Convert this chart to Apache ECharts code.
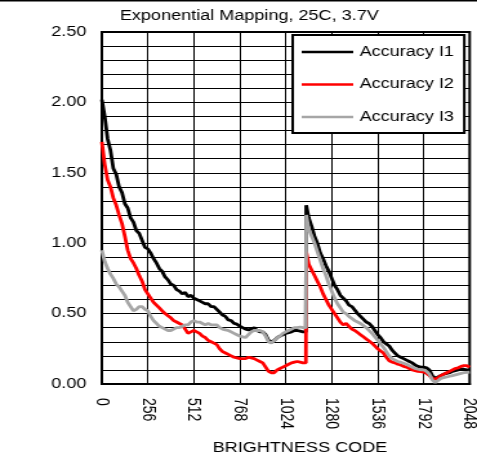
<!DOCTYPE html>
<html>
<head>
<meta charset="utf-8">
<script src="https://cdn.jsdelivr.net/npm/echarts@6/dist/echarts.min.js"></script>
<style>
html,body{margin:0;padding:0;background:#fff;overflow:hidden;}
#wrap{width:477px;height:464px;overflow:hidden;position:relative;}
#chart{width:370px;height:464px;transform:scaleX(1.2892);transform-origin:0 0;}
</style>
</head>
<body>
<div id="wrap"><div id="chart"></div></div>
<script>
// Brightness codes (x values)
var codes = [0,16,32,48,64,80,96,112,128,144,160,176,192,208,224,240,256,272,288,304,320,336,352,368,384,400,416,432,448,464,480,496,512,528,544,560,576,592,608,624,640,656,672,688,704,720,736,752,768,784,800,816,832,848,864,880,896,912,928,944,960,976,992,1008,1024,1040,1056,1072,1088,1104,1120,
  1136,1138,
  1152,1168,1184,1200,1216,1232,1248,1264,1280,1296,1312,1328,1344,1360,1376,1392,1408,1424,1440,1456,1472,1488,1504,1520,1536,1552,1568,1584,1600,1616,1632,1648,1664,1680,1696,1712,1728,1744,1760,1776,1792,1808,1824,1840,1856,1872,1888,1904,1920,1936,1952,1968,1984,2000,2016,2032,2048];

var accuracyI1 = [
  2.02,1.90,1.74,1.66,1.53,1.49,1.40,1.36,
  1.28,1.25,1.18,1.15,1.09,1.07,1.02,0.97,
  0.96,0.93,0.89,0.86,0.82,0.80,0.76,0.74,
  0.71,0.70,0.67,0.66,0.64,0.65,0.62,0.63,
  0.61,0.60,0.59,0.58,0.57,0.57,0.55,0.55,
  0.53,0.51,0.49,0.48,0.455,0.45,0.43,0.425,
  0.41,0.40,0.39,0.385,0.39,0.40,0.38,0.37,
  0.37,0.35,0.31,0.30,0.31,0.33,0.34,0.35,
  0.36,0.365,0.37,0.38,0.38,0.375,0.37,
  0.37,1.27,
  1.18,1.12,1.05,1.00,0.93,0.89,0.84,0.80,
  0.75,0.70,0.67,0.63,0.61,0.59,0.56,0.55,
  0.525,0.50,0.48,0.46,0.44,0.43,0.41,0.38,
  0.35,0.33,0.30,0.285,0.27,0.24,0.22,0.20,
  0.19,0.18,0.17,0.16,0.15,0.135,0.125,0.12,
  0.12,0.115,0.10,0.06,0.04,0.05,0.06,0.07,
  0.075,0.08,0.09,0.095,0.10,0.105,0.105,0.10,
  0.10];

var accuracyI2 = [
  1.72,1.56,1.45,1.40,1.32,1.27,1.20,1.14,
  1.05,0.95,0.89,0.86,0.82,0.77,0.73,0.67,
  0.64,0.61,0.58,0.56,0.54,0.52,0.50,0.485,
  0.47,0.45,0.44,0.43,0.42,0.39,0.36,0.37,
  0.38,0.37,0.36,0.34,0.33,0.31,0.30,0.29,
  0.28,0.25,0.23,0.22,0.21,0.20,0.19,0.185,
  0.18,0.18,0.18,0.19,0.185,0.18,0.17,0.16,
  0.15,0.12,0.09,0.08,0.08,0.10,0.11,0.12,
  0.13,0.14,0.15,0.155,0.16,0.155,0.15,
  0.15,0.94,
  0.85,0.81,0.77,0.73,0.69,0.64,0.60,0.56,
  0.53,0.50,0.47,0.44,0.42,0.43,0.41,0.39,
  0.38,0.365,0.35,0.335,0.32,0.305,0.29,0.27,
  0.25,0.235,0.22,0.19,0.165,0.155,0.15,0.14,
  0.135,0.125,0.12,0.11,0.10,0.095,0.09,0.088,
  0.085,0.075,0.06,0.04,0.035,0.045,0.06,0.07,
  0.08,0.09,0.10,0.11,0.115,0.125,0.13,0.13,
  0.12];

var accuracyI3 = [
  0.95,0.87,0.82,0.78,0.75,0.71,0.69,0.66,
  0.63,0.58,0.55,0.52,0.53,0.55,0.55,0.53,
  0.52,0.48,0.45,0.43,0.41,0.40,0.39,0.38,
  0.38,0.39,0.40,0.40,0.41,0.42,0.42,0.44,
  0.45,0.44,0.44,0.43,0.42,0.43,0.42,0.42,
  0.42,0.40,0.39,0.385,0.38,0.37,0.36,0.35,
  0.34,0.335,0.33,0.35,0.37,0.38,0.38,0.38,
  0.37,0.34,0.30,0.29,0.31,0.33,0.34,0.36,
  0.37,0.38,0.39,0.40,0.40,0.405,0.40,
  0.40,1.20,
  1.10,1.05,1.00,0.94,0.88,0.82,0.77,0.71,
  0.66,0.61,0.57,0.54,0.51,0.50,0.48,0.465,
  0.45,0.44,0.43,0.415,0.40,0.38,0.36,0.335,
  0.31,0.285,0.26,0.23,0.20,0.18,0.17,0.16,
  0.155,0.148,0.14,0.13,0.12,0.11,0.105,0.10,
  0.10,0.09,0.07,0.03,0.01,0.025,0.04,0.045,
  0.05,0.055,0.06,0.065,0.07,0.075,0.08,0.083,
  0.085];

var seriesNames = ['Accuracy I1','Accuracy I2','Accuracy I3'];
var xTicks = [0,256,512,768,1024,1280,1536,1792,2048];
var yLabelStep = 0.5;

function pairs(vals){ return codes.map(function(c,i){ return [c, vals[i]]; }); }

var FONT = '"Liberation Sans", Arial, sans-serif';
var chart = echarts.init(document.getElementById('chart'), null, {renderer:'canvas'});
chart.setOption({
  animation:false,
  backgroundColor:'#fff',
  textStyle:{fontFamily:FONT,color:'#000'},
  title:{text:'Exponential Mapping, 25C, 3.7V',left:93,top:9,padding:0,
    textStyle:{fontFamily:FONT,fontSize:14,fontWeight:'normal',color:'#000'}},
  graphic:[{type:'rect',shape:{x:0,y:0,width:370,height:1.5},style:{fill:'#000'}}],
  grid:{left:79,right:5.7,top:32,bottom:80,containLabel:false,outerBoundsMode:'none',
    show:true,borderColor:'#000',borderWidth:2,backgroundColor:'#fff'},
  legend:{orient:'vertical',left:227,top:35,padding:[10,8,9,7],itemGap:18.5,itemWidth:40,itemHeight:2.5,
    icon:'rect',
    backgroundColor:'#fff',borderColor:'#000',borderWidth:2,borderRadius:0,
    textStyle:{fontFamily:FONT,fontSize:14,lineHeight:14,color:'#000'},data:seriesNames},
  xAxis:{type:'value',min:0,max:2048,interval:256,
    name:'BRIGHTNESS CODE',nameLocation:'middle',nameGap:57,
    nameTextStyle:{fontFamily:FONT,fontSize:14,color:'#000',padding:[0,0,0,22]},
    axisLine:{show:true,lineStyle:{color:'#000',width:2}},
    axisTick:{show:false},
    axisLabel:{rotate:-90,margin:14,fontFamily:FONT,fontSize:14,color:'#000',
      customValues:xTicks,showMinLabel:true,showMaxLabel:true,
      formatter:function(v){ return String(v); }},
    splitLine:{show:true,lineStyle:{color:'#000',width:1}}},
  yAxis:{type:'value',min:0,max:2.5,interval:0.1,
    name:'ACCURACY (%)',nameLocation:'middle',nameGap:68,nameRotate:90,
    nameTextStyle:{fontFamily:FONT,fontSize:14,color:'#000',padding:[0,0,12,0]},
    axisLine:{show:true,lineStyle:{color:'#000',width:2}},
    axisTick:{show:false},
    axisLabel:{margin:12,fontFamily:FONT,fontSize:14,color:'#000',
      formatter:function(v){ var k=Math.round(v*10); return (k % Math.round(yLabelStep*10)===0)? (k/10).toFixed(2):''; }},
    splitLine:{show:true,lineStyle:{color:'#000',width:1}}},
  series:[
    {name:seriesNames[0],type:'line',data:pairs(accuracyI1),symbol:'none',lineStyle:{color:'#000',width:2.8},itemStyle:{color:'#000'},z:3},
    {name:seriesNames[1],type:'line',data:pairs(accuracyI2),symbol:'none',lineStyle:{color:'#ff0000',width:2.8},itemStyle:{color:'#ff0000'},z:4},
    {name:seriesNames[2],type:'line',data:pairs(accuracyI3),symbol:'none',lineStyle:{color:'#a6a6a6',width:2.8},itemStyle:{color:'#a6a6a6'},z:5}
  ]
});
</script>
</body>
</html>
